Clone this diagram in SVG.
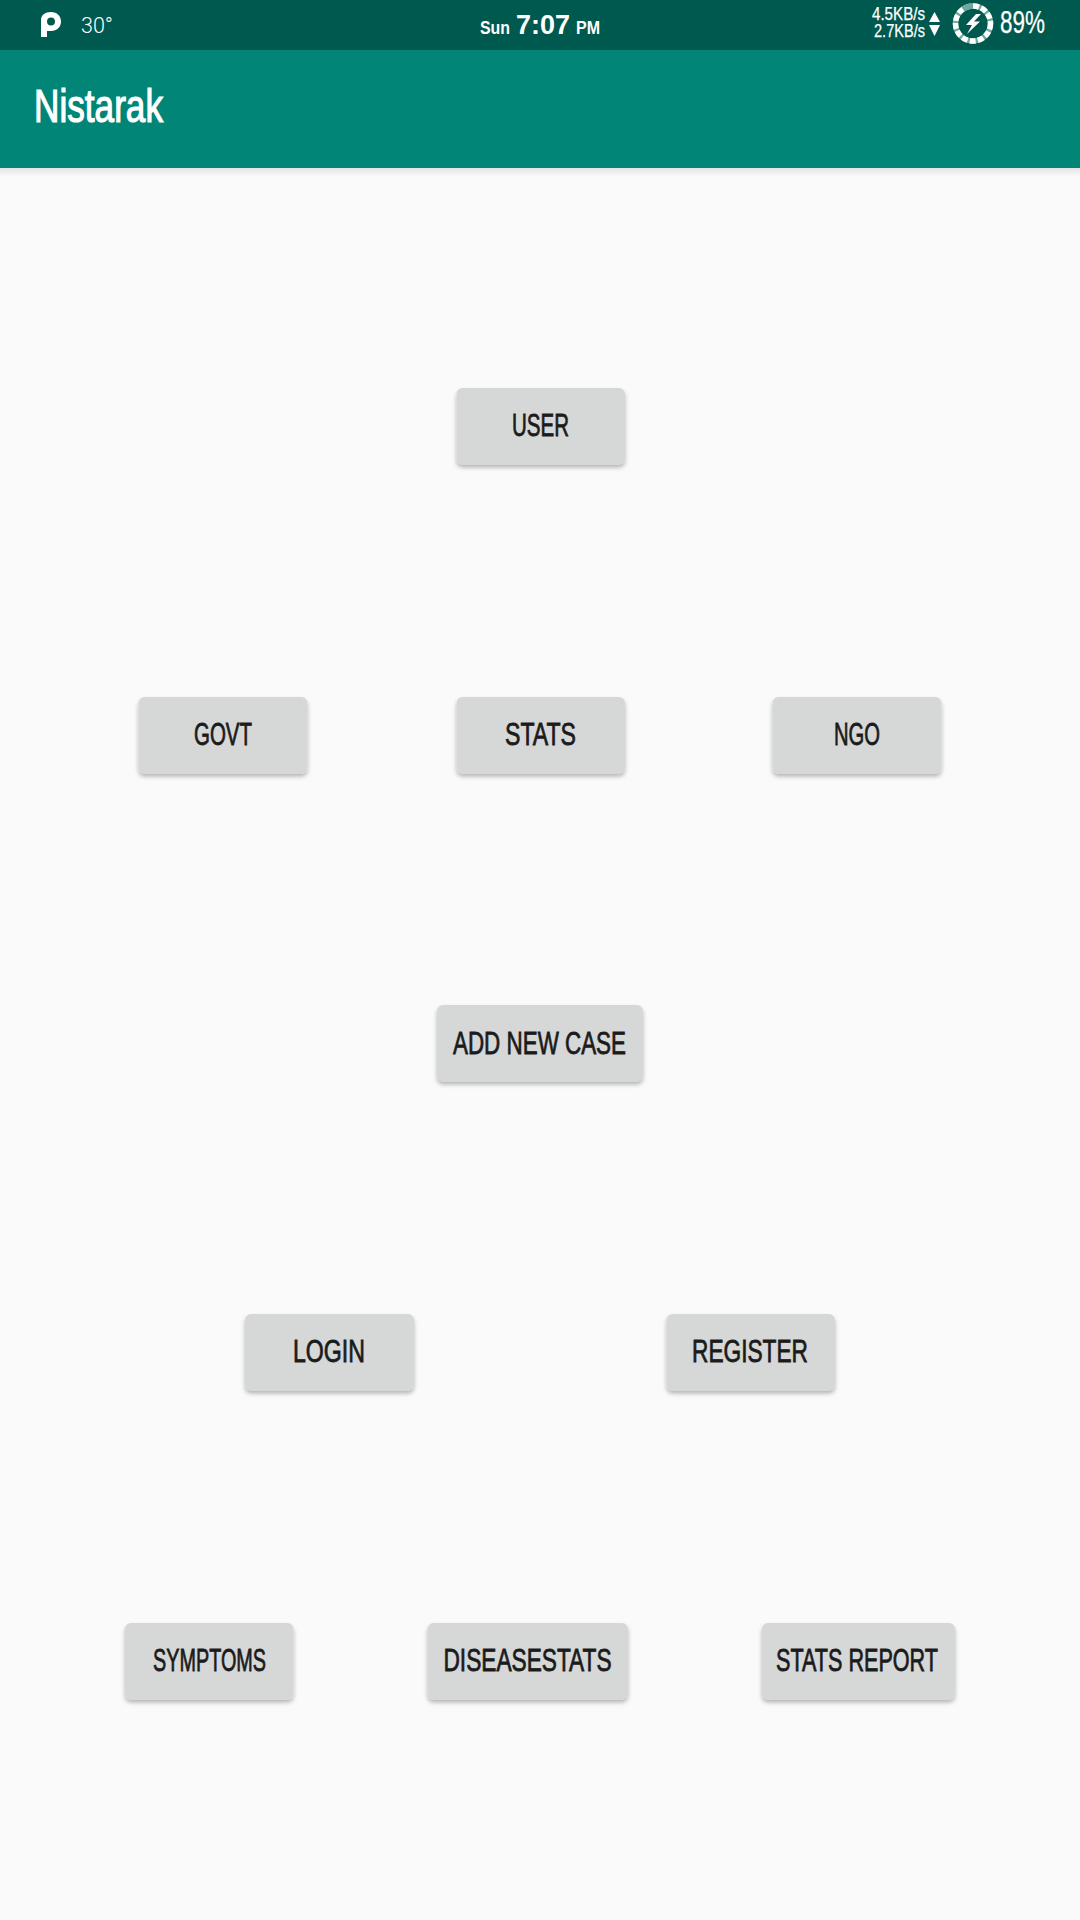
<svg xmlns="http://www.w3.org/2000/svg" width="1080" height="1920" viewBox="0 0 1080 1920">
<style>
.b{fill:#D6D7D7}
.t{font-family:"Liberation Sans Narrow","Liberation Sans",Arial,sans-serif;font-size:32px;fill:#1B1B1B;stroke:#1B1B1B;stroke-width:.8px}
.s{font-family:"Liberation Sans Narrow","Liberation Sans",Arial,sans-serif;fill:#fff;stroke:#fff;stroke-width:.25px}
</style>
<defs>
<filter id="sh" x="-15%" y="-20%" width="130%" height="150%"><feDropShadow dx="0" dy="3" stdDeviation="2.200" flood-color="#000" flood-opacity=".28"/></filter>
<linearGradient id="ab" x1="0" y1="0" x2="0" y2="1"><stop offset="0" stop-color="#000" stop-opacity=".09"/><stop offset="1" stop-color="#000" stop-opacity="0"/></linearGradient>
</defs>
<rect width="1080" height="1920" fill="#FAFAFA"/>
<g id="status-bar">
<rect width="1080" height="50" fill="#00594F"/>
<path fill="#fff" fill-rule="evenodd" d="M41 37V20C41 15 45 12 51 12C57 12 61 16 61 21.500C61 27 57 31 51 31H47V37ZM47 21.500C47 24 48.500 25.500 51 25.500C53.500 25.500 55 24 55 21.500C55 19 53.500 17.500 51 17.500C48.500 17.500 47 19 47 21.500Z"/>
<text x="81" y="33" style="font-family:Roboto,'Liberation Sans',sans-serif;font-weight:300;font-size:22.500px;fill:#fff" textLength="32" lengthAdjust="spacingAndGlyphs">30°</text>
<text x="480" y="34" style="font-family:'Liberation Sans Narrow','Liberation Sans',sans-serif;font-weight:700;font-size:19px;fill:#fff" textLength="30" lengthAdjust="spacingAndGlyphs">Sun</text>
<text x="516" y="34" style="font-family:'Liberation Sans',sans-serif;font-weight:700;font-size:27px;fill:#fff" textLength="54" lengthAdjust="spacingAndGlyphs">7:07</text>
<text x="576" y="34" style="font-family:'Liberation Sans Narrow','Liberation Sans',sans-serif;font-weight:700;font-size:19px;fill:#fff" textLength="24" lengthAdjust="spacingAndGlyphs">PM</text>
<text class="s" x="872" y="20" font-size="18" textLength="53" lengthAdjust="spacingAndGlyphs">4.5KB/s</text>
<text class="s" x="874" y="36.500" font-size="18" textLength="51" lengthAdjust="spacingAndGlyphs">2.7KB/s</text>
<path fill="#fff" d="M934.500 12L940 22H929ZM929 25H940L934.500 36Z"/>
<circle cx="973" cy="23.500" r="17.500" fill="none" stroke="#6FA89F" stroke-width="5.500"/>
<circle cx="973" cy="23.500" r="17.500" fill="none" stroke="#fff" stroke-width="5.500" stroke-dasharray="6 2.200"/>
<path d="M963 9.300A17.500 17.500 0 0 1 973 6" fill="none" stroke="#6FA89F" stroke-width="5.500"/>
<path fill="#fff" d="M976 14L966 25H972L967 34L980 21.500H974L981 14Z"/>
<text class="s" x="1000" y="32.700" font-size="31" textLength="45" lengthAdjust="spacingAndGlyphs">89%</text>
</g>
<g id="app-bar">
<rect y="168" width="1080" height="9" fill="url(#ab)"/>
<rect y="50" width="1080" height="118" fill="#008577"/>
<text x="34" y="122" style="font-family:'Liberation Sans Narrow','Liberation Sans',sans-serif;font-size:46px;fill:#fff;stroke:#fff;stroke-width:1.200px" textLength="129" lengthAdjust="spacingAndGlyphs">Nistarak</text>
</g>
<g id="btn-user"><rect class="b" x="456.500" y="388" width="168.500" height="76.500" rx="6" filter="url(#sh)"/><text class="t" x="512" y="436" textLength="57" lengthAdjust="spacingAndGlyphs">USER</text></g>
<g id="btn-govt"><rect class="b" x="138.500" y="697" width="169" height="76.500" rx="6" filter="url(#sh)"/><text class="t" x="194" y="745" textLength="58" lengthAdjust="spacingAndGlyphs">GOVT</text></g>
<g id="btn-stats"><rect class="b" x="456.500" y="697" width="168.500" height="76.500" rx="6" filter="url(#sh)"/><text class="t" x="505" y="745" textLength="71" lengthAdjust="spacingAndGlyphs">STATS</text></g>
<g id="btn-ngo"><rect class="b" x="772.500" y="697" width="169" height="76.500" rx="6" filter="url(#sh)"/><text class="t" x="834" y="745" textLength="46" lengthAdjust="spacingAndGlyphs">NGO</text></g>
<g id="btn-add-new-case"><rect class="b" x="437" y="1005" width="206" height="76.500" rx="6" filter="url(#sh)"/><text class="t" x="453" y="1053.500" textLength="173" lengthAdjust="spacingAndGlyphs">ADD NEW CASE</text></g>
<g id="btn-login"><rect class="b" x="245" y="1314" width="169" height="76.500" rx="6" filter="url(#sh)"/><text class="t" x="293" y="1361.500" textLength="72" lengthAdjust="spacingAndGlyphs">LOGIN</text></g>
<g id="btn-register"><rect class="b" x="666.500" y="1314" width="168.500" height="76.500" rx="6" filter="url(#sh)"/><text class="t" x="692" y="1361.500" textLength="116" lengthAdjust="spacingAndGlyphs">REGISTER</text></g>
<g id="btn-symptoms"><rect class="b" x="125" y="1623" width="168.500" height="76.500" rx="6" filter="url(#sh)"/><text class="t" x="153" y="1671" textLength="113" lengthAdjust="spacingAndGlyphs">SYMPTOMS</text></g>
<g id="btn-diseasestats"><rect class="b" x="427.500" y="1623" width="200.500" height="76.500" rx="6" filter="url(#sh)"/><text class="t" x="443.500" y="1671" textLength="168" lengthAdjust="spacingAndGlyphs">DISEASESTATS</text></g>
<g id="btn-stats-report"><rect class="b" x="762" y="1623" width="193" height="76.500" rx="6" filter="url(#sh)"/><text class="t" x="776" y="1671" textLength="162" lengthAdjust="spacingAndGlyphs">STATS REPORT</text></g>
</svg>
